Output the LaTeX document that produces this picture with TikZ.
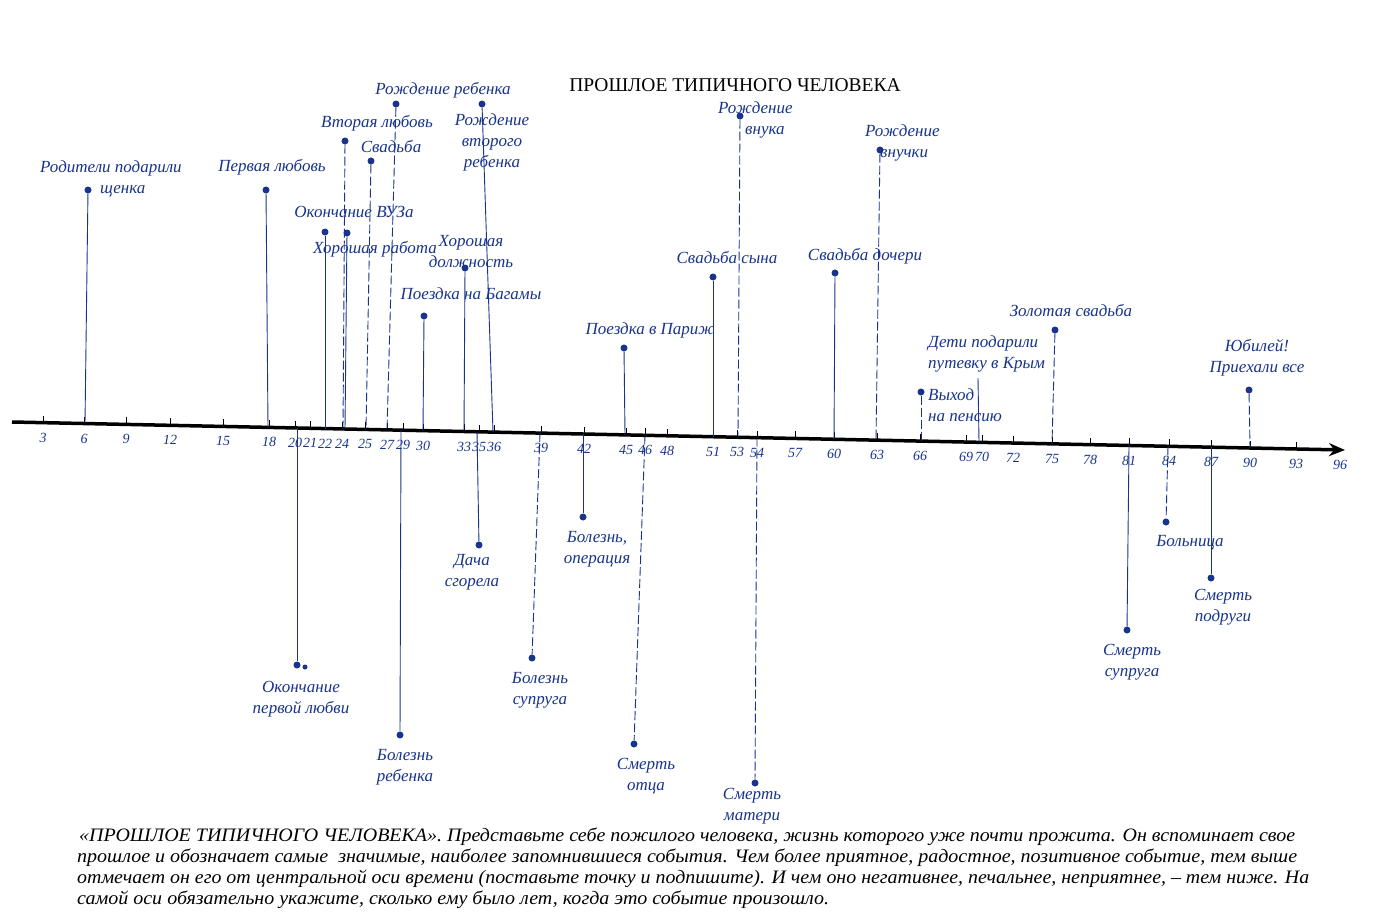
\documentclass[tikz,border=0pt]{standalone}
\usepackage{fontspec}
\setmainfont{Liberation Serif}
\usetikzlibrary{arrows.meta}
\definecolor{ink}{RGB}{24,52,140}
\newcommand\axc[2]{\pgfmathsetmacro\ayy{422+0.021*(#2-12)}\coordinate (#1) at (#2,\ayy);}
\begin{document}
\begin{tikzpicture}[x=1pt,y=-1pt,
 hand/.style={text=ink,font=\fontsize{17}{21}\selectfont\itshape,inner sep=0pt,align=center},
 num/.style={text=ink,font=\fontsize{14}{15}\selectfont\itshape,inner sep=0pt},
 dot/.style={circle,fill=ink,inner sep=0pt,minimum size=7pt},
 smalldot/.style={circle,fill=ink,inner sep=0pt,minimum size=5pt},
 evline/.style={draw=ink,line width=0.9pt},
 evdash/.style={evline,dash pattern=on 9pt off 3pt},
 tickmark/.style={line width=0.9pt},
 para/.style={font=\fontsize{19}{22}\selectfont\itshape,inner sep=0pt,anchor=west},
]
\useasboundingbox (0,0) rectangle (1375,918);
\fill[white] (0,0) rectangle (1375,918);

% title
\node[font=\fontsize{19.5}{21}\selectfont,inner sep=0pt] (title) at (735,85) {ПРОШЛОЕ ТИПИЧНОГО ЧЕЛОВЕКА};

% axis
\coordinate (axL) at (12,422);
\coordinate (axR) at (1345,450);
\draw[line width=3.5pt,-{Stealth[length=16pt,width=13pt]}] (axL) -- (axR);

\foreach \x/\l in {43/3,84/6,126/9,170/12,223/15,269/18,295/20,310/21,325/22,342/24,365/25,387/27,403/29,423/30,464/33,479/35,494/36,541/39,584/42,626/45,645/46,667/48,713/51,737/53,757/54,795/57,834/60,877/63,920/66,966/69,982/70,1013/72,1052/75,1090/78,1129/81,1169/84,1211/87,1250/90,1296/93}{
  \pgfmathsetmacro\yy{422+0.021*(\x-12)}
  \draw[tickmark] (\x,\yy) -- (\x,\yy-7);
  \node[num] (t\l) at (\x,\yy+15) {\l};
}
\node[num] (t96) at (1340,465) {96};

% ---------- positive events ----------
\node[dot] (d1) at (88,190) {};
\node[hand,align=left,anchor=west] (l1) at (40,179) {Родители подарили\\\hspace*{60pt}щенка};
\axc{a1}{85} \draw[evline] (d1) -- (a1);

\node[dot] (d2) at (266,190) {};
\node[hand] (l2) at (272,167) {Первая любовь};
\axc{a2}{268} \draw[evline] (d2) -- (a2);

\node[dot] (d3) at (345,141) {};
\node[hand] (l3) at (377,123) {Вторая любовь};
\axc{a3}{343} \draw[evdash] (d3) -- (a3);

\node[dot] (d4) at (371,161) {};
\node[hand] (l4) at (391,147) {Свадьба};
\axc{a4}{366} \draw[evdash] (d4) -- (a4);

\node[dot] (d5) at (396,104) {};
\node[hand] (l5) at (443,90) {Рождение ребенка};
\axc{a5}{387} \draw[evdash] (d5) -- (a5);

\node[dot] (d6) at (482,104) {};
\node[hand] (l6) at (492,142) {Рождение\\второго\\ребенка};
\axc{a6}{493} \draw[evline] (d6) -- (a6);

\node[dot] (d7) at (325,232) {};
\node[hand] (l7) at (354,212) {Окончание ВУЗа};
\axc{a7}{325} \draw[evline] (d7) -- (a7);

\node[dot] (d8) at (347,233) {};
\node[hand] (l8) at (375,249) {Хорошая работа};
\axc{a8}{345} \draw[evline] (d8) -- (a8);

\node[dot] (d9) at (465,268) {};
\node[hand] (l9) at (471,252) {Хорошая\\должность};
\axc{a9}{464} \draw[evline] (d9) -- (a9);

\node[dot] (d10) at (424,316) {};
\node[hand] (l10) at (471,294) {Поездка на Багамы};
\axc{a10}{423} \draw[evline] (d10) -- (a10);

\node[dot] (d11) at (624,348) {};
\node[hand] (l11) at (650,330) {Поездка в Париж};
\axc{a11}{625} \draw[evline] (d11) -- (a11);

\node[dot] (d12) at (713,277) {};
\node[hand] (l12) at (727,257) {Свадьба сына};
\axc{a12}{713} \draw[evline] (d12) -- (a12);

\node[dot] (d13) at (740,116) {};
\node[hand,align=left,anchor=west] (l13) at (718,120) {Рождение\\\hspace*{27pt}внука};
\axc{a13}{738} \draw[evdash] (d13) -- (a13);

\node[dot] (d14) at (835,273) {};
\node[hand] (l14) at (865,256) {Свадьба дочери};
\axc{a14}{834} \draw[evline] (d14) -- (a14);

\node[dot] (d15) at (880,150) {};
\node[hand,align=left,anchor=west] (l15) at (865,143) {Рождение\\\hspace*{15pt}внучки};
\axc{a15}{876} \draw[evdash] (d15) -- (a15);

\node[dot] (d16) at (1055,330) {};
\node[hand] (l16) at (1071,310) {Золотая свадьба};
\axc{a16}{1052} \draw[evdash] (d16) -- (a16);

\node[hand,align=left,anchor=west] (l17) at (928,354) {Дети подарили\\путевку в Крым};
\coordinate (c17) at (978,378);
\axc{a17}{979} \draw[evline] (c17) -- (a17);

\node[dot] (d18) at (921,392) {};
\node[hand,align=left,anchor=west] (l18) at (928,405) {Выход\\на пенсию};
\axc{a18}{921} \draw[evdash] (d18) -- (a18);

\node[dot] (d19) at (1249,390) {};
\node[hand] (l19) at (1257,358) {Юбилей!\\Приехали все};
\axc{a19}{1250} \draw[evdash] (d19) -- (a19);

% ---------- negative events ----------
\node[dot] (d20) at (297,665) {};
\node[smalldot] (d20b) at (305,667) {};
\node[hand] (l20) at (301,699) {Окончание\\первой любви};
\axc{a20}{297} \draw[evline] (a20) -- (d20);

\node[dot] (d21) at (400,735) {};
\node[hand] (l21) at (405,767) {Болезнь\\ребенка};
\axc{a21}{401} \draw[evline] (a21) -- (d21);

\node[dot] (d22) at (479,545) {};
\node[hand] (l22) at (472,572) {Дача\\сгорела};
\axc{a22}{477} \draw[evline] (a22) -- (d22);

\node[dot] (d23) at (532,658) {};
\node[hand] (l23) at (540,690) {Болезнь\\супруга};
\axc{a23}{540} \draw[evdash] (a23) -- (d23);

\node[dot] (d24) at (583,517) {};
\node[hand] (l24) at (597,549) {Болезнь,\\операция};
\axc{a24}{583} \draw[evline] (a24) -- (d24);

\node[dot] (d25) at (634,744) {};
\node[hand] (l25) at (646,776) {Смерть\\отца};
\axc{a25}{645} \draw[evdash] (a25) -- (d25);

\node[dot] (d26) at (755,783) {};
\node[hand] (l26) at (752,806) {Смерть\\матери};
\axc{a26}{757} \draw[evdash] (a26) -- (d26);

\node[dot] (d27) at (1127,630) {};
\node[hand] (l27) at (1132,662) {Смерть\\супруга};
\axc{a27}{1129} \draw[evline] (a27) -- (d27);

\node[dot] (d28) at (1166,522) {};
\node[hand] (l28) at (1190,543) {Больница};
\axc{a28}{1168} \draw[evdash] (a28) -- (d28);

\node[dot] (d29) at (1211,578) {};
\node[hand] (l29) at (1223,607) {Смерть\\подруги};
\axc{a29}{1211} \draw[evline] (a29) -- (d29);

% ---------- paragraph ----------
\node[para] (p1) at (79,837) {\resizebox{1216pt}{\height}{«ПРОШЛОЕ ТИПИЧНОГО ЧЕЛОВЕКА». Представьте себе пожилого человека, жизнь которого уже почти прожита. Он вспоминает свое}};
\node[para] (p2) at (77,858) {\resizebox{1220pt}{\height}{прошлое и обозначает самые \ значимые, наиболее запомнившиеся события. Чем более приятное, радостное, позитивное событие, тем выше}};
\node[para] (p3) at (77,879) {\resizebox{1232pt}{\height}{отмечает он его от центральной оси времени (поставьте точку и подпишите). И чем оно негативнее, печальнее, неприятнее, – тем ниже. На}};
\node[para] (p4) at (77,900) {\resizebox{752pt}{\height}{самой оси обязательно укажите, сколько ему было лет, когда это событие произошло.}};
\end{tikzpicture}
\end{document}
